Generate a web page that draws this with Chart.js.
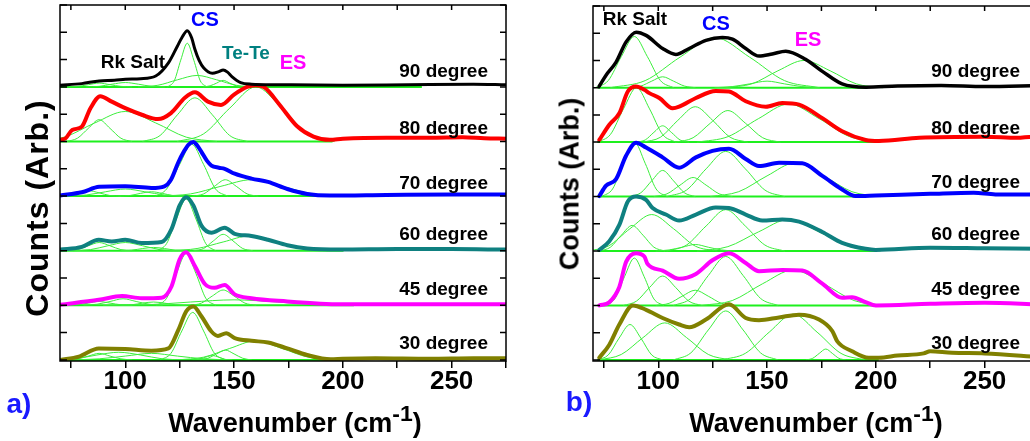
<!DOCTYPE html>
<html>
<head>
<meta charset="utf-8">
<script src="https://cdn.jsdelivr.net/npm/chart.js@4.4.1/dist/chart.umd.min.js"></script>
<style>
    html, body { margin: 0; padding: 0; overflow: hidden; background: #fff; }
    body { width: 1030px; height: 441px; position: relative; font-family: "Liberation Sans", Arial, sans-serif; font-weight: bold; }
    canvas { position: absolute; top: 0; }
    #chartA { left: 0; }
    #chartB { left: 513px; }
    .lbl { position: absolute; white-space: nowrap; line-height: 1; transform: translate(-50%, -50%); }
    .deg { position: absolute; white-space: nowrap; line-height: 1; font-size: 19px; transform: translate(-100%, -50%); color: #000; }
    .ytitle { position: absolute; white-space: nowrap; line-height: 1; transform: translate(-50%, -50%) rotate(-90deg); color: #000; }
    .xtitle { position: absolute; white-space: nowrap; line-height: 1; font-size: 27px; transform: translate(-50%, -50%); color: #000; }
    .xtitle sup { font-size: 0.85em; line-height: 0; vertical-align: 0.45em; }
    .panel { position: absolute; font-size: 28px; color: #1a1aff; line-height: 1; transform: translate(-50%, -50%); }
</style>
</head>
<body>
<canvas id="chartA" width="510" height="441"></canvas>
<canvas id="chartB" width="540" height="441"></canvas>

<!-- annotazioni pannello a -->
<div class="lbl" style="left:133px; top:61px; font-size:19px; color:#000;">Rk Salt</div>
<div class="lbl" style="left:205px; top:19px; font-size:20px; color:#0000ff;">CS</div>
<div class="lbl" style="left:246px; top:52px; font-size:19px; color:#008080;">Te-Te</div>
<div class="lbl" style="left:293px; top:62px; font-size:20px; color:#ff00ff;">ES</div>
<div class="deg" style="left:488px; top:70px;">90 degree</div>
<div class="deg" style="left:488px; top:127px;">80 degree</div>
<div class="deg" style="left:488px; top:182px;">70 degree</div>
<div class="deg" style="left:488px; top:233px;">60 degree</div>
<div class="deg" style="left:488px; top:288px;">45 degree</div>
<div class="deg" style="left:488px; top:342px;">30 degree</div>
<div class="ytitle" style="left:37px; top:208px; font-size:32px; letter-spacing:1px;">Counts (Arb.)</div>
<div class="xtitle" style="left:295px; top:423px;">Wavenumber (cm<sup>-1</sup>)</div>
<div class="panel" style="left:19px; top:404px;">a)</div>

<!-- annotazioni pannello b -->
<div class="lbl" style="left:635px; top:18px; font-size:19px; color:#000;">Rk Salt</div>
<div class="lbl" style="left:716px; top:23px; font-size:20px; color:#0000ff;">CS</div>
<div class="lbl" style="left:808px; top:39px; font-size:20px; color:#ff00ff;">ES</div>
<div class="deg" style="left:1020px; top:70px;">90 degree</div>
<div class="deg" style="left:1020px; top:127px;">80 degree</div>
<div class="deg" style="left:1020px; top:181px;">70 degree</div>
<div class="deg" style="left:1020px; top:233px;">60 degree</div>
<div class="deg" style="left:1020px; top:288px;">45 degree</div>
<div class="deg" style="left:1020px; top:342px;">30 degree</div>
<div class="ytitle" style="left:570px; top:184px; font-size:27px;">Counts (Arb.)</div>
<div class="xtitle" style="left:816px; top:423px;">Wavenumber (cm<sup>-1</sup>)</div>
<div class="panel" style="left:579px; top:402px;">b)</div>

<script>
// Etichette asse x e offset verticali degli spettri (90, 80, 70, 60, 45, 30 gradi)
const xTickLabels = [100, 150, 200, 250];
const offsets = [5, 4, 3, 2, 1, 0];
const colors = ["#000000", "#ff0000", "#0000ff", "#0f8080", "#ff00ff", "#808000"];
const fitGreen = "#3cee3c";
const baseGreen = "#1ef01e";

// Pannello a) - spettri misurati [numero d'onda, conteggi]
const specA90 = [[70,0.03],[80,0.06],[88,0.11],[95,0.12],[100,0.14],[107,0.15],[114,0.2],[120,0.45],[124,0.75],[126,0.9],[128.5,1.03],[130.5,0.9],[132,0.69],[134,0.48],[136,0.35],[140,0.25],[143,0.28],[145,0.31],[147,0.27],[149,0.19],[153,0.08],[158,0.05],[170,0.04],[200,0.03],[230,0.04],[260,0.05],[275,0.04]];
const specA80 = [[70,0.03],[72.6,0.06],[75.6,0.21],[80,0.27],[84,0.61],[88.5,0.83],[93.8,0.73],[100,0.61],[107.6,0.49],[115,0.41],[121,0.52],[127.4,0.8],[132,0.9],[138,0.73],[144,0.67],[150,0.86],[156,1.0],[160,1.03],[164,0.99],[171,0.67],[179,0.28],[186.5,0.09],[194,0.03],[200,0.05],[220,0.07],[240,0.07],[255,0.08],[265,0.06],[275,0.05]];
const specA70 = [[70,0.01],[80,0.07],[88,0.17],[100,0.18],[112,0.15],[118,0.18],[121,0.3],[124.4,0.62],[127,0.82],[129,0.94],[131.3,0.99],[133,0.93],[135,0.81],[137.5,0.65],[139.6,0.56],[143,0.52],[145.7,0.5],[150.3,0.41],[158,0.32],[165.6,0.26],[174.5,0.13],[183.6,0.04],[194,0.01],[220,0.02],[250,0.03],[275,0.03]];
const specA60 = [[70,0.02],[80,0.07],[87.8,0.2],[93.8,0.17],[100,0.2],[107.6,0.14],[116.7,0.16],[121.3,0.4],[125,0.83],[128,0.98],[131.3,0.83],[135,0.46],[139.6,0.33],[145.7,0.42],[150.3,0.31],[158,0.27],[165.6,0.2],[174.5,0.1],[183.6,0.04],[199,0.02],[225,0.03],[250,0.03],[275,0.02]];
const specA45 = [[70,0.01],[87.8,0.1],[98.5,0.17],[107.6,0.13],[116.7,0.14],[121.3,0.35],[125,0.84],[128,0.97],[132,0.72],[136.6,0.39],[141,0.32],[145.7,0.37],[150.3,0.2],[158,0.13],[174.5,0.07],[189.7,0.03],[200,0.02],[250,0.02],[275,0.02]];
const specA30 = [[70,0.0],[78.7,0.06],[87.8,0.21],[100,0.2],[112,0.17],[119.8,0.21],[124.4,0.55],[128,0.89],[131.3,0.98],[135,0.8],[139.6,0.52],[142.6,0.44],[146.4,0.49],[150.3,0.4],[158,0.35],[165.6,0.32],[174.5,0.21],[183.6,0.09],[194.4,0.01],[200,0.02],[215,0.03],[240,0.02],[260,0.03],[275,0.03]];

// Pannello a) - componenti del fit (curve verdi)
const fitsA90 = [
    [[73,0],[78,0.01],[83,0.04],[88,0.07],[93,0.04],[98,0.01],[103,0]],
    [[82,0],[88,0.01],[94,0.05],[100,0.08],[106,0.05],[112,0.01],[118,0]],
    [[119.5,0],[122.5,0.11],[125.5,0.49],[128.5,0.8],[131.5,0.49],[134.5,0.11],[137.5,0]],
    [[106,0],[115,0.03],[124,0.13],[133,0.21],[142,0.13],[151,0.03],[160,0]],
    [[136,0],[139,0.02],[142,0.07],[145,0.12],[148,0.07],[151,0.02],[154,0]]
];
const fitsA80 = [
    [[73,0],[78,0.06],[83,0.24],[88,0.4],[93,0.24],[98,0.06],[103,0]],
    [[58,0],[72,0.08],[86,0.34],[100,0.55],[114,0.34],[128,0.08],[142,0]],
    [[108,0],[116,0.11],[124,0.49],[132,0.8],[140,0.49],[148,0.11],[156,0]],
    [[124,0],[136,0.14],[148,0.61],[160,1.0],[172,0.61],[184,0.14],[196,0]]
];
const fitsA70 = [
    [[68,0],[73,0.01],[78,0.06],[83,0.1],[88,0.06],[93,0.01],[98,0]],
    [[73,0],[82,0.02],[91,0.08],[100,0.13],[109,0.08],[118,0.02],[127,0]],
    [[97,0],[102,0.01],[107,0.05],[112,0.08],[117,0.05],[122,0.01],[127,0]],
    [[114,0],[119,0.13],[125,0.58],[130.5,0.95],[136,0.58],[141.5,0.13],[147,0]],
    [[131,0],[136,0.04],[141,0.18],[146,0.3],[151,0.18],[156,0.04],[161,0]],
    [[116,0],[130,0.04],[144,0.18],[158,0.3],[172,0.18],[186,0.04],[200,0]]
];
const fitsA60 = [
    [[73,0],[78,0.02],[83,0.09],[88,0.15],[93,0.09],[98,0.02],[103,0]],
    [[76,0],[84,0.02],[92,0.09],[100,0.15],[108,0.09],[116,0.02],[124,0]],
    [[98,0],[103,0.01],[108,0.04],[113,0.06],[118,0.04],[123,0.01],[128,0]],
    [[114.5,0],[119,0.13],[123.5,0.58],[128,0.95],[132.5,0.58],[137,0.13],[141.5,0]],
    [[131.5,0],[136,0.04],[140.5,0.18],[145,0.3],[149.5,0.18],[154,0.04],[158.5,0]],
    [[121,0],[133,0.04],[145,0.16],[157,0.27],[169,0.16],[181,0.04],[193,0]]
];
const fitsA45 = [
    [[73,0],[78,0.01],[83,0.04],[88,0.07],[93,0.04],[98,0.01],[103,0]],
    [[81,0],[87,0.02],[93,0.07],[99,0.12],[105,0.07],[111,0.02],[117,0]],
    [[98,0],[103,0.01],[108,0.04],[113,0.06],[118,0.04],[123,0.01],[128,0]],
    [[114.5,0],[119,0.13],[123.5,0.58],[128,0.95],[132.5,0.58],[137,0.13],[141.5,0]],
    [[130,0],[135,0.04],[140,0.17],[145,0.28],[150,0.17],[155,0.04],[160,0]],
    [[90,0],[110,0.01],[130,0.06],[150,0.1],[170,0.06],[190,0.01],[210,0]]
];
const fitsA30 = [
    [[73,0],[78,0.02],[83,0.07],[88,0.12],[93,0.07],[98,0.02],[103,0]],
    [[67,0],[77,0.02],[87,0.09],[97,0.14],[107,0.09],[117,0.02],[127,0]],
    [[76,0],[88,0.02],[100,0.07],[112,0.12],[124,0.07],[136,0.02],[148,0]],
    [[116,0],[121,0.12],[126,0.53],[131,0.87],[136,0.53],[141,0.12],[146,0]],
    [[131,0],[134,0.01],[137,0.05],[140,0.08],[143,0.05],[146,0.01],[149,0]],
    [[134,0],[138,0.03],[142,0.11],[146,0.18],[150,0.11],[154,0.03],[158,0]],
    [[124,0],[136,0.05],[148,0.21],[160,0.35],[172,0.21],[184,0.05],[196,0]]
];

// Pannello b) - spettri misurati
const specB90 = [[72.9,0.03],[76,0.23],[80.6,0.47],[85.2,0.84],[89.8,1.02],[94.4,0.96],[102,0.72],[108.1,0.61],[114.2,0.72],[121.9,0.87],[129.5,0.92],[134.1,0.89],[140.2,0.72],[146.3,0.58],[152.4,0.62],[158.6,0.67],[167.7,0.52],[175.4,0.3],[184.5,0.07],[195.3,0.01],[210,0.03],[230,0.04],[250,0.02],[275,0.04]];
const specB80 = [[72.9,0.04],[77.5,0.32],[82.1,0.53],[86,0.93],[89.8,1.02],[93.6,0.96],[95.9,0.9],[100.5,0.81],[106.6,0.62],[109.6,0.65],[117.3,0.81],[126.4,0.94],[132.5,0.93],[140.2,0.75],[149.4,0.65],[157,0.72],[164.7,0.69],[175.4,0.44],[184.5,0.2],[195.3,0.04],[201.4,0.02],[220,0.08],[250,0.1],[265,0.08],[272,0.1],[275,0.05]];
const specB70 = [[72.9,0.01],[76,0.2],[80.6,0.32],[85.2,0.75],[89.8,0.99],[94.4,0.9],[102,0.72],[109.6,0.53],[117.3,0.72],[124.9,0.84],[132.5,0.88],[140.2,0.69],[146.3,0.56],[155.5,0.62],[166.2,0.61],[175.4,0.38],[184.5,0.13],[190.6,0.01],[200,0.02],[225,0.05],[245,0.07],[255,0.04],[275,0.04]];
const specB60 = [[72.9,0.02],[77.5,0.18],[82.1,0.48],[86,0.91],[89.8,1.0],[94.4,0.94],[97.4,0.79],[103.5,0.67],[109.6,0.56],[117.3,0.67],[126.4,0.8],[132.5,0.79],[140.2,0.67],[147.8,0.56],[157,0.58],[164.7,0.54],[175.4,0.35],[184.5,0.15],[195.3,0.04],[200,0.02],[225,0.06],[250,0.05],[275,0.04]];
const specB45 = [[72.9,0.0],[77.5,0.06],[82.1,0.34],[85.2,0.8],[89.8,0.96],[93.6,0.9],[95.1,0.76],[102,0.64],[109.6,0.49],[117.3,0.58],[124.9,0.83],[132.5,0.96],[140.2,0.78],[146.3,0.63],[157,0.65],[166.2,0.64],[175.4,0.4],[184.5,0.14],[189.1,0.15],[195.3,0.06],[200,0.0],[225,0.03],[250,0.05],[275,0.02]];
const specB30 = [[72.9,0.04],[77.5,0.28],[82.1,0.65],[88.3,1.0],[94.4,0.92],[102,0.77],[109.6,0.65],[114.2,0.6],[121.9,0.74],[132.5,1.02],[140.2,0.77],[146.3,0.73],[155.5,0.78],[164.7,0.83],[173.9,0.74],[180,0.53],[182.3,0.34],[189.1,0.16],[196.7,0.04],[201.4,0.04],[210,0.08],[222,0.12],[225,0.16],[235,0.13],[250,0.12],[275,0.05]];

// Pannello b) - componenti del fit
const fitsB90 = [
    [[71,0],[77,0.13],[83,0.57],[89,0.94],[95,0.57],[101,0.13],[107,0]],
    [[87,0],[92,0.03],[97,0.12],[102,0.2],[107,0.12],[112,0.03],[117,0]],
    [[78,0],[94,0.13],[110,0.56],[126,0.92],[142,0.56],[158,0.13],[174,0]],
    [[126,0],[134,0.02],[142,0.07],[150,0.12],[158,0.07],[166,0.02],[174,0]],
    [[131,0],[143,0.07],[155,0.31],[167,0.5],[179,0.31],[191,0.07],[203,0]]
];
const fitsB80 = [
    [[72,0],[78,0.14],[84,0.61],[90,1.0],[96,0.61],[102,0.14],[108,0]],
    [[90,0],[94,0.04],[98,0.18],[102,0.3],[106,0.18],[110,0.04],[114,0]],
    [[93,0],[101,0.09],[109,0.4],[117,0.65],[125,0.4],[133,0.09],[141,0]],
    [[108,0],[116,0.08],[124,0.35],[132,0.58],[140,0.35],[148,0.08],[156,0]],
    [[118,0],[132,0.1],[146,0.43],[160,0.7],[174,0.43],[188,0.1],[202,0]]
];
const fitsB70 = [
    [[74,0],[79,0.14],[84,0.61],[89,1.0],[94,0.61],[99,0.14],[104,0]],
    [[87,0],[92,0.07],[97,0.29],[102,0.48],[107,0.29],[112,0.07],[117,0]],
    [[98,0],[104,0.05],[110,0.21],[116,0.35],[122,0.21],[128,0.05],[134,0]],
    [[104,0],[113,0.12],[122,0.51],[131,0.83],[140,0.51],[149,0.12],[158,0]],
    [[124,0],[137,0.09],[150,0.38],[163,0.62],[176,0.38],[189,0.09],[202,0]]
];
const fitsB60 = [
    [[73,0],[78,0.07],[83,0.29],[88,0.47],[93,0.29],[98,0.07],[103,0]],
    [[67,0],[77,0.09],[87,0.41],[97,0.67],[107,0.41],[117,0.09],[127,0]],
    [[99,0],[105,0.02],[111,0.07],[117,0.12],[123,0.07],[129,0.02],[135,0]],
    [[104,0],[113,0.11],[122,0.46],[131,0.76],[140,0.46],[149,0.11],[158,0]],
    [[118,0],[132,0.08],[146,0.35],[160,0.58],[174,0.35],[188,0.08],[202,0]]
];
const fitsB45 = [
    [[75.5,0],[80,0.12],[84.5,0.53],[89,0.87],[93.5,0.53],[98,0.12],[102.5,0]],
    [[84,0],[90,0.08],[96,0.33],[102,0.54],[108,0.33],[114,0.08],[120,0]],
    [[99,0],[105,0.04],[111,0.17],[117,0.28],[123,0.17],[129,0.04],[135,0]],
    [[107,0],[115,0.13],[123,0.55],[131,0.9],[139,0.55],[147,0.13],[155,0]],
    [[120,0],[134,0.09],[148,0.4],[162,0.65],[176,0.4],[190,0.09],[204,0]]
];
const fitsB30 = [
    [[72,0],[77,0.09],[82,0.4],[87,0.65],[92,0.4],[97,0.09],[102,0]],
    [[73,0],[83,0.1],[93,0.41],[103,0.68],[113,0.41],[123,0.1],[133,0]],
    [[107,0],[115,0.13],[123,0.55],[131,0.9],[139,0.55],[147,0.13],[155,0]],
    [[129,0],[140,0.12],[151,0.51],[162,0.84],[173,0.51],[184,0.12],[195,0]],
    [[168,0],[171,0.03],[174,0.12],[177,0.2],[180,0.12],[183,0.03],[186,0]]
];

// Estremi delle linee di base verdi
const baseRangeA = [[70,236],[70,195],[70,200],[70,200],[70,205],[70,197]];
const baseRangeB = [[72.5,196],[72.5,199],[72.5,192],[72.5,200],[72.5,200],[72.5,201]];

// Cornice con tacche interne (sinistra, destra, sopra)
const framePlugin = {
    id: "frame",
    afterDraw(chart) {
        const { ctx, chartArea: a, scales } = chart;
        ctx.save();
        ctx.strokeStyle = "#000";
        ctx.lineWidth = 1.5;
        ctx.strokeRect(a.left, a.top, a.right - a.left, a.bottom - a.top);
        ctx.beginPath();
        scales.y.ticks.forEach(t => {
            const y = scales.y.getPixelForValue(t.value);
            ctx.moveTo(a.left, y); ctx.lineTo(a.left + 7, y);
            ctx.moveTo(a.right, y); ctx.lineTo(a.right - 6, y);
        });
        scales.x.ticks.forEach(t => {
            const x = scales.x.getPixelForValue(t.value);
            ctx.moveTo(x, a.top); ctx.lineTo(x, a.top + 5);
        });
        ctx.stroke();
        ctx.restore();
    }
};

function toPoints(list, off) {
    return list.map(p => ({ x: p[0], y: p[1] + off }));
}

function buildDatasets(specs, fits, baseRanges, widths) {
    const sets = [];
    specs.forEach((spec, i) => {
        const off = offsets[i];
        sets.push({ data: toPoints(spec, off), borderColor: colors[i], borderWidth: widths[i], order: 0 });
        fits[i].forEach(f => {
            sets.push({ data: toPoints(f, off), borderColor: fitGreen, borderWidth: 1, order: 1 });
        });
        const r = baseRanges[i];
        sets.push({ data: [{ x: r[0], y: off }, { x: r[1], y: off }], borderColor: baseGreen, borderWidth: 2, order: 1 });
    });
    return sets;
}

function makeChart(id, datasets, padding) {
    const ctx = document.getElementById(id).getContext("2d");
    return new Chart(ctx, {
        type: "line",
        data: { datasets: datasets },
        options: {
            responsive: false,
            animation: false,
            devicePixelRatio: 1,
            layout: { padding: padding },
            elements: {
                point: { radius: 0 },
                line: { cubicInterpolationMode: "monotone", borderJoinStyle: "round", borderCapStyle: "round", fill: false }
            },
            plugins: { legend: { display: false }, tooltip: { enabled: false } },
            scales: {
                x: {
                    type: "linear",
                    min: 70,
                    max: 275,
                    afterFit: s => { s.height = 80; },
                    border: { display: false },
                    grid: { drawOnChartArea: false, color: "#000", lineWidth: 1.5, tickLength: 7 },
                    ticks: {
                        stepSize: 25,
                        includeBounds: false,
                        autoSkip: false,
                        maxRotation: 0,
                        padding: -2,
                        color: "#000",
                        font: { family: "'Liberation Sans', Arial, sans-serif", size: 26, weight: "bold" },
                        callback: v => xTickLabels.includes(v) ? String(v) : ""
                    }
                },
                y: {
                    type: "linear",
                    min: -0.02,
                    max: 6.5,
                    afterFit: s => { s.width = 0; },
                    border: { display: false },
                    grid: { display: false },
                    ticks: { display: false, stepSize: 0.5, includeBounds: false }
                }
            }
        },
        plugins: [framePlugin]
    });
}

makeChart("chartA",
    buildDatasets([specA90, specA80, specA70, specA60, specA45, specA30],
        [fitsA90, fitsA80, fitsA70, fitsA60, fitsA45, fitsA30],
        baseRangeA, [3, 4, 4, 4, 4, 4]),
    { left: 60, top: 5, right: 4, bottom: 0 });

makeChart("chartB",
    buildDatasets([specB90, specB80, specB70, specB60, specB45, specB30],
        [fitsB90, fitsB80, fitsB70, fitsB60, fitsB45, fitsB30],
        baseRangeB, [3.5, 4, 4, 4, 4, 4]),
    { left: 80, top: 6, right: 14, bottom: 0 });
</script>
</body>
</html>
